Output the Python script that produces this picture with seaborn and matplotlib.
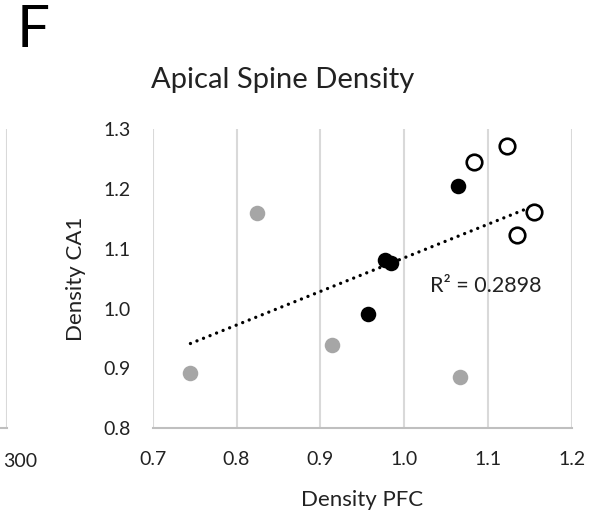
import matplotlib
matplotlib.use("Agg")
import matplotlib.pyplot as plt
import seaborn as sns
import pandas as pd

# Prefrontal vs CA1 apical spine density, by group
grey_pfc = [0.745, 0.824, 0.914, 1.067]
grey_ca1 = [0.893, 1.160, 0.939, 0.886]
black_pfc = [1.064, 0.977, 0.984, 0.957]
black_ca1 = [1.205, 1.081, 1.077, 0.991]
open_pfc = [1.083, 1.123, 1.155, 1.135]
open_ca1 = [1.246, 1.272, 1.162, 1.124]

x_ticks = [0.7, 0.8, 0.9, 1.0, 1.1, 1.2]
y_ticks = [0.8, 0.9, 1.0, 1.1, 1.2, 1.3]
r2_label = "R² = 0.2898"

df = pd.DataFrame({
    "pfc": grey_pfc + black_pfc + open_pfc,
    "ca1": grey_ca1 + black_ca1 + open_ca1,
    "group": ["grey"] * len(grey_pfc) + ["black"] * len(black_pfc) + ["open"] * len(open_pfc),
})

sns.set_theme(style="white")
plt.rcParams["font.family"] = ["Lato", "DejaVu Sans"]

TXT = "#222222"

fig = plt.figure(figsize=(5.89, 5.13), dpi=100)
ax = fig.add_axes([0.2593, 0.1651, 0.7114, 0.5829])

# linear trendline over all points
sns.regplot(data=df, x="pfc", y="ca1", scatter=False, ci=None, truncate=True, ax=ax,
            line_kws=dict(color="black", lw=2.4, linestyle=(0, (0.01, 2.1)),
                          dash_capstyle="round", zorder=3))

styles = {
    "grey": dict(color="#a6a6a6", edgecolor="#a6a6a6", linewidth=0),
    "black": dict(color="black", edgecolor="black", linewidth=0),
    "open": dict(color="white", edgecolor="black", linewidth=1.9),
}
for g, kw in styles.items():
    sub = df[df["group"] == g]
    sns.scatterplot(data=sub, x="pfc", y="ca1", ax=ax, s=125, zorder=4, legend=False, **kw)

ax.set_xlim(0.7, 1.2)
ax.set_ylim(0.8, 1.3)
ax.set_xticks(x_ticks)
ax.set_xticklabels([f"{v:.1f}" for v in x_ticks])
ax.set_yticks(y_ticks)
ax.set_yticklabels([f"{v:.1f}" for v in y_ticks])
ax.tick_params(axis="both", length=0, labelsize=14, colors=TXT)
ax.tick_params(axis="x", pad=16)
ax.tick_params(axis="y", pad=16)

ax.grid(axis="x", color="#d9d9d9", lw=1.5)
ax.grid(axis="y", visible=False)
for side in ["top", "right", "left"]:
    ax.spines[side].set_visible(False)
ax.spines["bottom"].set_color("#bfbfbf")
ax.spines["bottom"].set_linewidth(1.5)
ax.spines["bottom"].set_zorder(2)

ax.set_xlabel("Density PFC", fontsize=16, color=TXT, labelpad=16)
ax.set_ylabel("Density CA1", fontsize=16, color=TXT, labelpad=12)

ax.text(1.031, 1.0385, r2_label, fontsize=15.5, color=TXT, va="center", ha="left")

# neighbouring panel edge on the left
axl = fig.add_axes([-0.3, 0.1651, 0.3119, 0.5829])
axl.set_xlim(0, 300)
axl.set_ylim(0, 1)
axl.set_xticks([300])
axl.set_xticklabels([])
axl.set_yticks([])
axl.tick_params(length=0)
axl.grid(axis="x", color="#d9d9d9", lw=1.5)
for side in ["top", "right", "left"]:
    axl.spines[side].set_visible(False)
axl.spines["bottom"].set_color("#bfbfbf")
axl.spines["bottom"].set_linewidth(1.5)
fig.text(3 / 589, 1 - 461.7 / 513, "300", fontsize=14, color=TXT, ha="left", va="center")

fig.text(283 / 589, 1 - 80 / 513, "Apical Spine Density", fontsize=21, color=TXT,
         ha="center", va="center")
fig.text(17 / 589, 1 - 31 / 513, "F", fontsize=42, color="black", ha="left", va="center")

fig.savefig("out.png", dpi=100)
